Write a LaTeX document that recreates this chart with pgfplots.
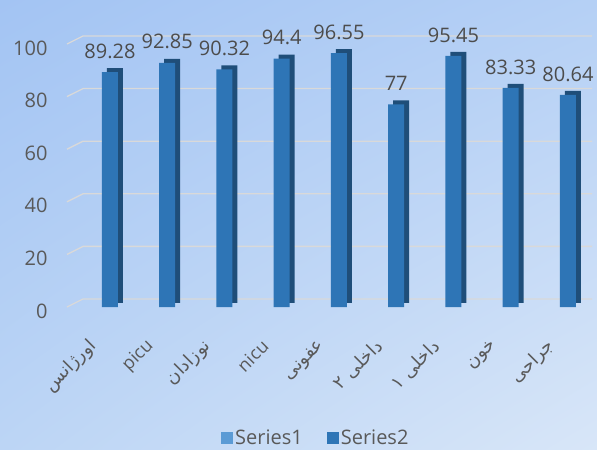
\documentclass[border=0pt]{standalone}
\usepackage{fontspec}
\setmainfont{Open Sans}
\newfontfamily\arabicfont[Script=Arabic]{DejaVu Sans}
\TeXXeTstate=1
\usepackage{pgfplots}
\pgfplotsset{compat=1.18}
\usetikzlibrary{shadings}
\definecolor{barfront}{HTML}{2E75B6}
\definecolor{barside}{HTML}{1F4E79}
\definecolor{serone}{HTML}{5B9BD5}
\definecolor{txt}{HTML}{595959}
\definecolor{gridc}{HTML}{D9D9D9}
\definecolor{bgtl}{HTML}{A3C4F3}
\definecolor{bgtr}{HTML}{B5D0F5}
\definecolor{bgbl}{HTML}{BCD5F5}
\definecolor{bgbr}{HTML}{D8E6F8}

\pgfplotstableread{
x y
0 89.28
1 92.85
2 90.32
3 94.4
4 96.55
5 77
6 95.45
7 83.33
8 80.64
}\seriestwo

\begin{document}
\begin{tikzpicture}
\useasboundingbox (0,0) rectangle (597bp,450bp);
\shade[upper left=bgtl, upper right=bgtr, lower left=bgbl, lower right=bgbr]
  (0,0) rectangle (597bp,450bp);
\begin{axis}[
    at={(67bp,143bp)}, anchor=south west,
    scale only axis, width=525bp, height=263bp,
    xmin=-0.75, xmax=8.42, ymin=0, ymax=100,
    clip=false,
    axis line style={draw=none},
    major tick length=0pt,
    ytick={0,20,...,100},
    xtick={0,...,8},
    xticklabels={{\arabicfont\beginR اورژانس\endR}, picu, {\arabicfont\beginR نوزادان\endR}, nicu, {\arabicfont\beginR عفونی\endR},
                 {\arabicfont\beginR داخلی ۲\endR}, {\arabicfont\beginR داخلی ۱\endR}, {\arabicfont\beginR خون\endR}, {\arabicfont\beginR جراحی\endR}},
    /pgf/number format/assume math mode=true,
    tick label style={text=txt},
    yticklabel style={font=\fontsize{20bp}{24bp}\selectfont, xshift=-16bp, yshift=-4bp},
    xticklabel style={font=\fontsize{18bp}{22bp}\selectfont, xshift=-14bp, yshift=-34bp, rotate=45, anchor=east},
    ybar, bar width=16bp,
    legend style={draw=none, fill=none, legend columns=2,
        at={(0.474,-0.498)}, anchor=center,
        font=\fontsize{20bp}{24bp}\selectfont, text=txt,
        /tikz/every even column/.append style={column sep=22bp}},
    legend image code/.code={\fill[#1] (-2bp,-6bp) rectangle (10bp,6bp);},
]
\pgfplotsinvokeforeach{0,20,...,100}{
  \draw[gridc, line width=1.3bp] (axis cs:-0.75,#1) -- ([yshift=8bp]axis cs:-0.47,#1) -- ([yshift=8bp]axis cs:8.42,#1);
}
\addplot[fill=barside, draw=none, bar shift=5bp, yshift=4bp, forget plot] table[x=x,y=y] {\seriestwo};
\addplot[fill=barfront, draw=none, bar shift=0bp, forget plot,
    nodes near coords, nodes near coords style={font=\fontsize{20bp}{24bp}\selectfont, text=txt!85!black, yshift=10bp}]
    table[x=x,y=y] {\seriestwo};
\addlegendimage{fill=serone, draw=none}
\addlegendentry{Series1}
\addlegendimage{fill=barfront, draw=none}
\addlegendentry{Series2}
\end{axis}
\end{tikzpicture}
\end{document}
